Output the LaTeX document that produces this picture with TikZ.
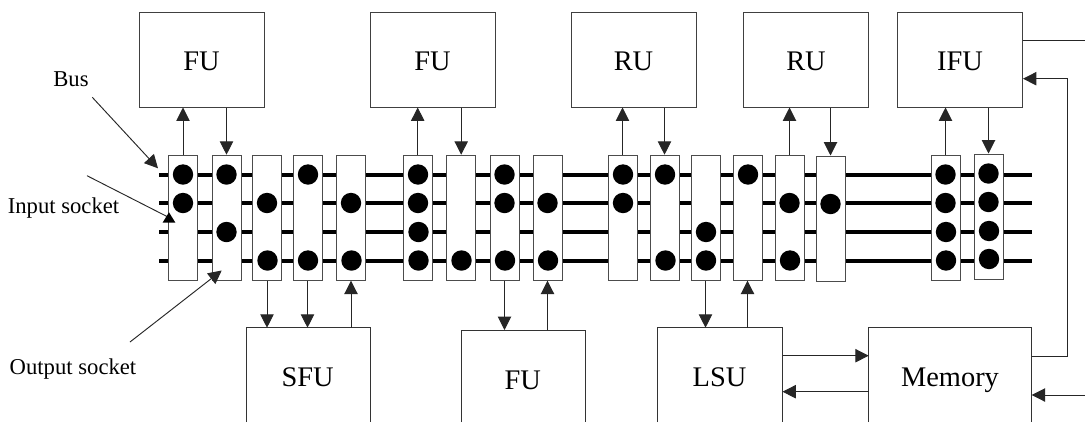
\documentclass[tikz,border=0pt]{standalone}
\usepackage{fontspec}
\setmainfont{Liberation Serif}
\usetikzlibrary{arrows.meta}
\tikzset{
 x=0.75pt,y=-0.75pt,
 unitbox/.style={draw=black!75,line width=0.75pt,fill=white,minimum width=93.75pt,minimum height=71.25pt,inner sep=0pt,text height=15.8pt,text depth=0pt,font=\fontsize{21.3}{21.3}\selectfont},
 unitlabel/.style={anchor=base,inner sep=0pt,font=\fontsize{21.3}{21.3}\selectfont},
 socket/.style={draw=black!70,line width=0.75pt,fill=white,minimum width=21.75pt,minimum height=93.75pt,inner sep=0pt},
 busline/.style={line width=2.9pt,black},
 dot/.style={circle,fill=black,inner sep=0pt,minimum size=15.3pt},
 conn/.style={draw=black!85,line width=0.7pt,-{Triangle[length=10pt,width=10pt]}},
 plainconn/.style={draw=black!85,line width=0.7pt},
 lab/.style={font=\fontsize{17}{17}\selectfont,inner sep=0pt,anchor=base},
 openbox/.style={draw=black!80,line width=0.75pt,fill=white}
}
\begin{document}
\begin{tikzpicture}
\useasboundingbox (0,0) rectangle (1085,422);
\fill[white] (0,0) rectangle (1085,422);
% buses
\coordinate (bl1) at (159,174.7); \coordinate (br1) at (1032,174.7);
\coordinate (bl2) at (159,203); \coordinate (br2) at (1032,203);
\coordinate (bl3) at (159,232); \coordinate (br3) at (1032,232);
\coordinate (bl4) at (159,261); \coordinate (br4) at (1032,261);
\foreach \i in {1,2,3,4} \draw[busline] (bl\i) -- (br\i);
% sockets
\foreach \n/\x/\y in {a/183/217.7,b/226.5/217.7,c/267/217.7,d/307.5/217.7,e/351/217.7,f/417.7/217.7,g/461.2/217.7,h/504.5/217.7,i/547.5/217.7,j/622.5/217.7,k/664.5/217.7,l/705.5/217.7,m/747.5/217.7,n/789.5/217.7,o/830.5/218.5,p/945.5/217.7,q/988.5/216.5}
 \node[socket] (s\n) at (\x,\y) {};
% dots
\foreach \x/\y in {183/174.5,183/203,226.5/174.5,226.5/232,267/203,267.5/260.5,308/174.5,308/260.5,351/203,351.5/260.5,
418/174.5,418/203,418.5/232,418.5/260.5,461.5/260.5,504.5/174.5,504.5/203,505/260.5,547.5/203,548/260.5,
623/174.5,623/203,665/174.5,665.5/260.5,706/232,706/260.5,748/174.5,789.5/203,790/260.5,830.5/204,
945.5/174.5,945.5/203,946/232,946/260.5,988.5/173.5,988.5/202,989/231,989/259}
 \node[dot] at (\x,\y) {};
% top units
\node[unitbox] (fu1) at (201.5,59.5) {FU};
\node[unitbox] (fu2) at (432.5,59.5) {FU};
\node[unitbox] (ru1) at (633.5,59.5) {RU};
\node[unitbox] (ru2) at (806,59.5) {RU};
\node[unitbox] (ifu) at (960,59.5) {IFU};
% bottom units (open at the picture's lower edge)
\draw[openbox] (246,422) -- (246,327.7) -- (370,327.7) -- (370,422);
\draw[openbox] (461.3,422) -- (461.3,330) -- (585.7,330) -- (585.7,422);
\draw[openbox] (657.7,422) -- (657.7,327.7) -- (782.5,327.7) -- (782.5,422);
\draw[openbox] (868.7,422) -- (868.7,327.7) -- (1031.7,327.7) -- (1031.7,422);
\node[unitlabel] (sfu) at (307.7,386.3) {SFU};
\node[unitlabel] (fu3) at (522.7,389) {FU};
\node[unitlabel] (lsu) at (719.5,386.3) {LSU};
\node[unitlabel] (mem) at (950,386) {Memory};
% labels
\node[lab] (bus) at (71,86) {Bus};
\node[lab] (ins) at (63.5,213) {Input socket};
\node[lab] (outs) at (73,374.5) {Output socket};
\coordinate (busa) at (92.3,97.3);
\coordinate (busb) at (158,168.3);
\coordinate (insa) at (87,175.7);
\coordinate (insb) at (168,217);
\coordinate (outa) at (130,342);
\coordinate (outb) at (221.7,270.5);
\draw[conn] (busa) -- (busb);
\draw[plainconn] (insa) -- (insb);
\fill[black] (169,212.3) -- (175.3,222.5) -- (162.7,222.5) -- cycle;
\draw[conn] (outa) -- (outb);
% vertical links
\draw[conn] (sa.north) -- (sa.north |- fu1.south);
\draw[conn] (fu1.south -| sb.north) -- (sb.north);
\draw[conn] (sf.north) -- (sf.north |- fu2.south);
\draw[conn] (fu2.south -| sg.north) -- (sg.north);
\draw[conn] (sj.north) -- (sj.north |- ru1.south);
\draw[conn] (ru1.south -| sk.north) -- (sk.north);
\draw[conn] (sn.north) -- (sn.north |- ru2.south);
\draw[conn] (ru2.south -| so.north) -- (so.north);
\draw[conn] (sp.north) -- (sp.north |- ifu.south);
\draw[conn] (ifu.south -| sq.north) -- (sq.north);
\draw[conn] (sc.south) -- (sc.south |- 0,327.7);
\draw[conn] (sd.south) -- (sd.south |- 0,327.7);
\draw[conn] (se.south |- 0,327.7) -- (se.south);
\draw[conn] (sh.south) -- (sh.south |- 0,330);
\draw[conn] (si.south |- 0,330) -- (si.south);
\draw[conn] (sl.south) -- (sl.south |- 0,327.7);
\draw[conn] (sm.south |- 0,327.7) -- (sm.south);
% memory links
\draw[conn] (782.5,355.7) -- (868.7,355.7);
\draw[conn] (868.7,391.7) -- (782.5,391.7);
\coordinate (ifuout) at (1085,40);
\draw[plainconn] (ifu.east |- ifuout) -- (ifuout);
\coordinate (memin) at (1085,395);
\draw[conn] (memin) -- (1031.7,395);
\draw[conn] (1031.7,356.7) -- (1067.3,356.7) -- (1067.3,78.7) -- (ifu.east |- 0,78.7);
\end{tikzpicture}
\end{document}
